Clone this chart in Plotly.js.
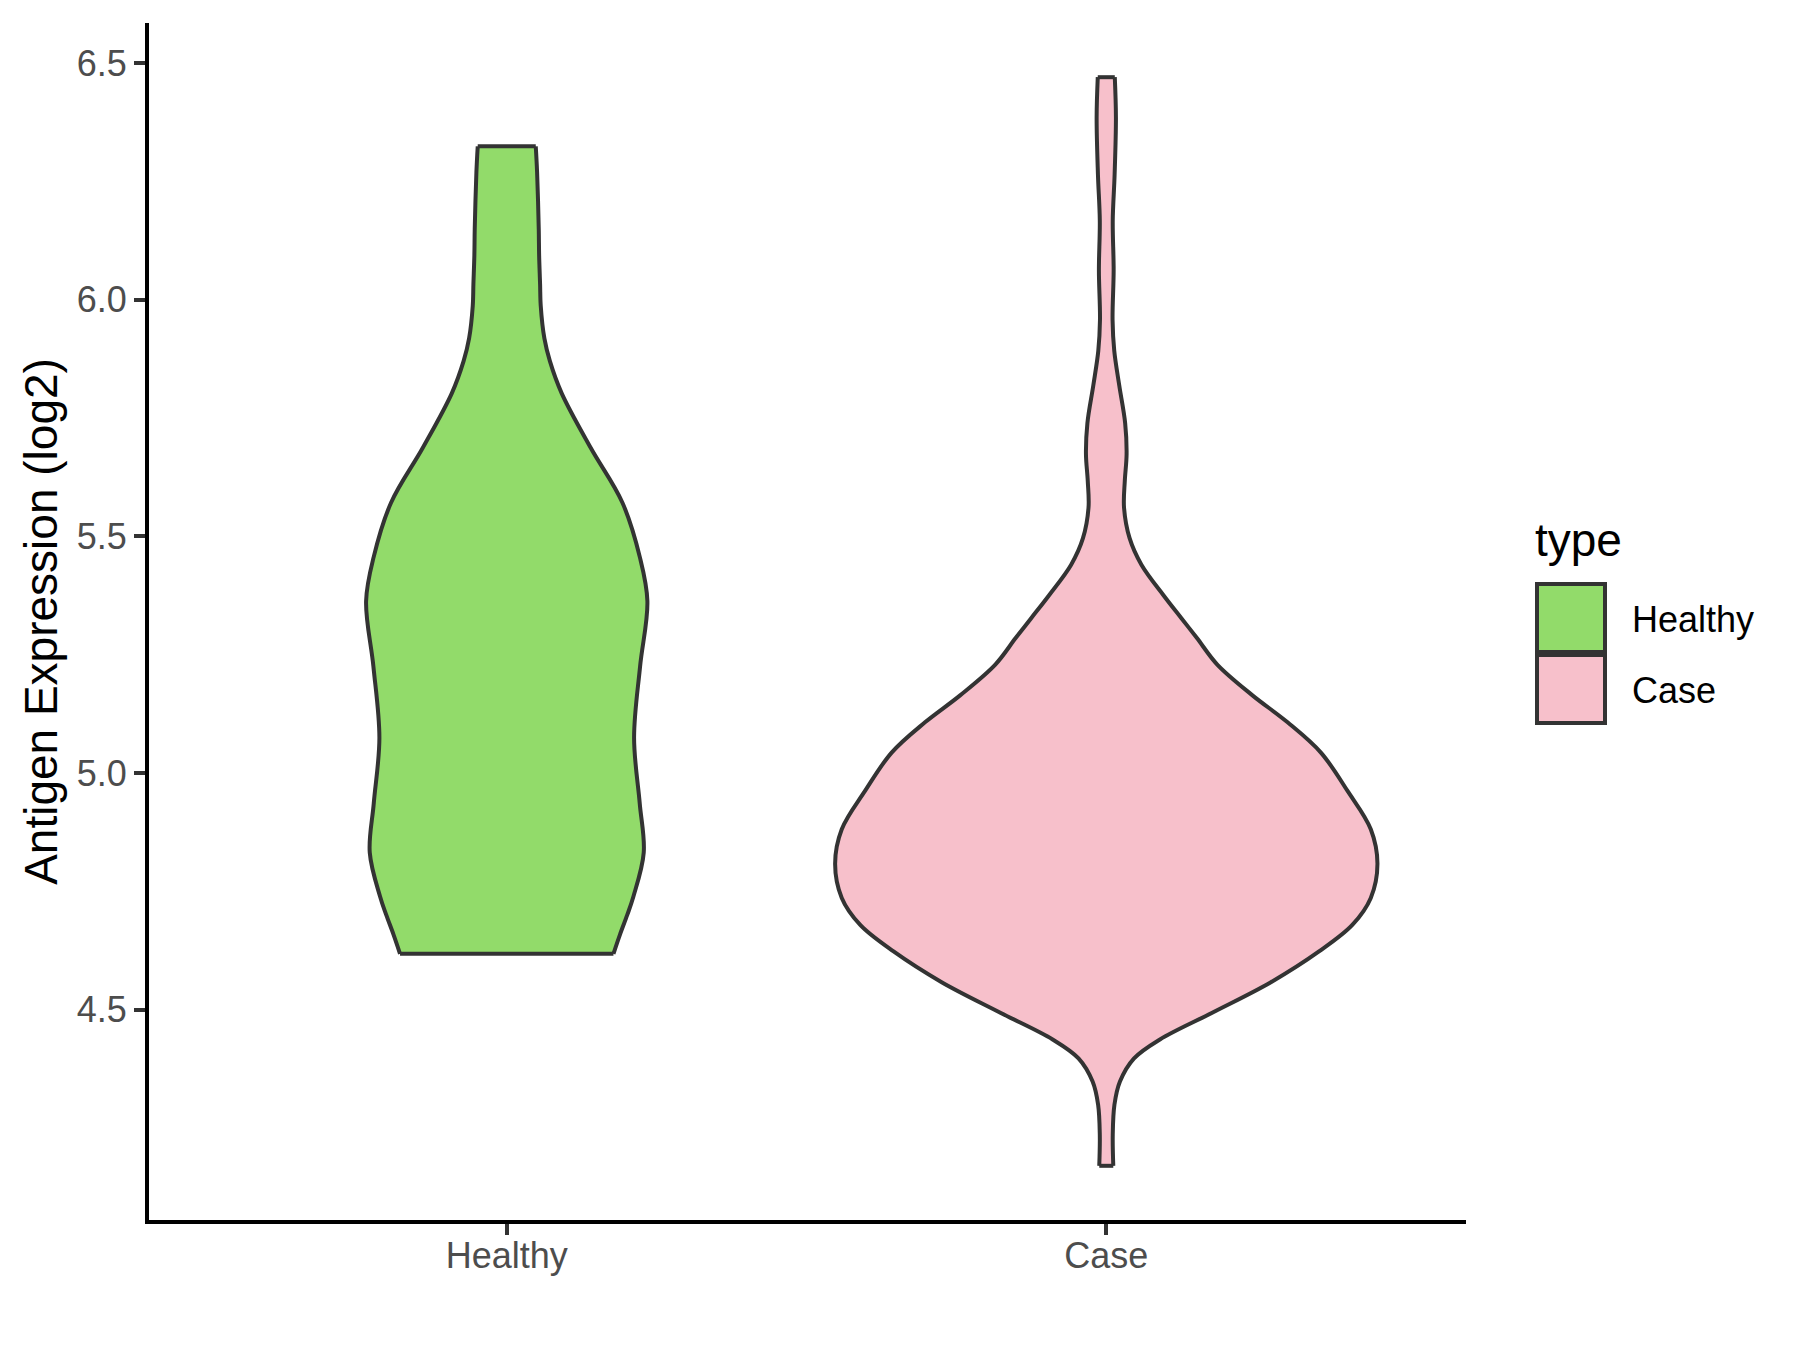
<!DOCTYPE html>
<html>
<head>
<meta charset="utf-8">
<script src="https://cdn.plot.ly/plotly-3.0.1.min.js"></script>
<style>
  html, body { margin: 0; padding: 0; background: #ffffff; }
  #chart { width: 1800px; height: 1350px; }
</style>
</head>
<body>
<div id="chart"></div>
<script>
// ---- data (density outline: y level -> half width in category units) ----
const categories = ["Healthy", "Case"];
const categoryPos = [1, 2];
const fillColors = ["#92DB6A", "#F7C0CB"];

const healthyY = [4.618, 4.659, 4.700, 4.739, 4.832, 4.936, 5.074, 5.225, 5.363, 5.456, 5.571, 5.687, 5.802, 5.870, 5.918, 5.987, 6.033, 6.094, 6.149, 6.270, 6.324];
const healthyHalfWidth = [0.178, 0.189, 0.201, 0.2113, 0.2285, 0.2218, 0.2124, 0.2224, 0.2346, 0.222, 0.1930, 0.140, 0.0917, 0.072, 0.0628, 0.0567, 0.0556, 0.054, 0.0534, 0.0506, 0.0484];

const caseY = [4.170, 4.235, 4.299, 4.348, 4.397, 4.437, 4.493, 4.558, 4.623, 4.679, 4.736, 4.808, 4.881, 4.962, 5.043, 5.107, 5.164, 5.229, 5.285, 5.327, 5.375, 5.440, 5.496, 5.561, 5.617, 5.674, 5.739, 5.819, 5.892, 5.957, 6.062, 6.167, 6.264, 6.385, 6.470];
const caseHalfWidth = [0.0117, 0.0108, 0.0136, 0.0228, 0.0463, 0.0895, 0.1759, 0.2746, 0.3548, 0.4104, 0.4412, 0.4523, 0.4412, 0.4024, 0.358, 0.3024, 0.2438, 0.1851, 0.1512, 0.1253, 0.0957, 0.0586, 0.0389, 0.0296, 0.0309, 0.0339, 0.0315, 0.0216, 0.0133, 0.0105, 0.0123, 0.0108, 0.0139, 0.0161, 0.0142];

const yTickVals = [4.5, 5.0, 5.5, 6.0, 6.5];
const yTickText = ["4.5", "5.0", "5.5", "6.0", "6.5"];
const yTitle = "Antigen Expression (log2)";
const legendTitle = "type";

const OUTLINE = { color: "#333333", width: 4 };

// ---- violins: left side, right side (filled between), flat top and bottom ends ----
const profiles = [[healthyY, healthyHalfWidth], [caseY, caseHalfWidth]];
const traces = [];
profiles.forEach((p, i) => {
  const c = categoryPos[i], ys = p[0], hw = p[1];
  const n = ys.length - 1;
  traces.push({
    type: "scatter", mode: "lines", x: hw.map(h => c - h), y: ys,
    line: Object.assign({ shape: "spline", smoothing: 1 }, OUTLINE),
    name: categories[i], showlegend: false, hoverinfo: "skip"
  });
  traces.push({
    type: "scatter", mode: "lines", x: hw.map(h => c + h), y: ys,
    fill: "tonextx", fillcolor: fillColors[i],
    line: Object.assign({ shape: "spline", smoothing: 1 }, OUTLINE),
    name: categories[i], showlegend: false, hoverinfo: "skip"
  });
  traces.push({
    type: "scatter", mode: "lines",
    x: [c - hw[0], c + hw[0], null, c - hw[n], c + hw[n]],
    y: [ys[0], ys[0], null, ys[n], ys[n]],
    line: OUTLINE, name: categories[i], showlegend: false, hoverinfo: "skip"
  });
});

// ---- layout (pixel helpers for the hand-built ggplot-style legend) ----
const W = 1800, H = 1350;
const M = { l: 149, r: 334, t: 23, b: 130 };
const PW = W - M.l - M.r, PH = H - M.t - M.b;
const px = v => (v - M.l) / PW;
const py = v => (H - M.b - v) / PH;
const FONT = "Liberation Sans, Arial, sans-serif";

const shapes = [], annotations = [];
const keyTop = [584, 655];
categories.forEach((c, i) => {
  shapes.push({ type: "rect", xref: "paper", yref: "paper",
    x0: px(1537), x1: px(1605), y0: py(keyTop[i]), y1: py(keyTop[i] + 68),
    fillcolor: fillColors[i], line: { color: "#333333", width: 4 } });
  annotations.push({ xref: "paper", yref: "paper", x: px(1630), y: py(keyTop[i] + 35),
    xanchor: "left", yanchor: "middle", showarrow: false, text: c,
    font: { family: FONT, size: 36, color: "#000000" } });
});
annotations.push({ xref: "paper", yref: "paper", x: px(1533), y: py(540),
  xanchor: "left", yanchor: "middle", showarrow: false, text: legendTitle,
  font: { family: FONT, size: 46, color: "#000000" } });

const layout = {
  width: W, height: H,
  margin: M,
  paper_bgcolor: "#ffffff", plot_bgcolor: "#ffffff",
  showlegend: false,
  font: { family: FONT },
  xaxis: {
    range: [0.4033, 2.6], tickvals: categoryPos, ticktext: categories,
    showline: true, linecolor: "#000000", linewidth: 4,
    ticks: "outside", ticklen: 11, tickwidth: 4, tickcolor: "#333333",
    tickfont: { family: FONT, size: 36, color: "#4D4D4D" },
    ticklabelstandoff: -10,
    showgrid: false, zeroline: false, fixedrange: true
  },
  yaxis: {
    range: [4.0555, 6.5845], tickvals: yTickVals, ticktext: yTickText,
    showline: true, linecolor: "#000000", linewidth: 4,
    ticks: "outside", ticklen: 11, tickwidth: 4, tickcolor: "#333333",
    tickfont: { family: FONT, size: 36, color: "#4D4D4D" },
    showgrid: false, zeroline: false, fixedrange: true,
    title: { text: yTitle, font: { family: FONT, size: 46, color: "#000000" }, standoff: 6 }
  },
  shapes: shapes,
  annotations: annotations
};

Plotly.newPlot("chart", traces, layout, { staticPlot: true, displayModeBar: false });
</script>
</body>
</html>
